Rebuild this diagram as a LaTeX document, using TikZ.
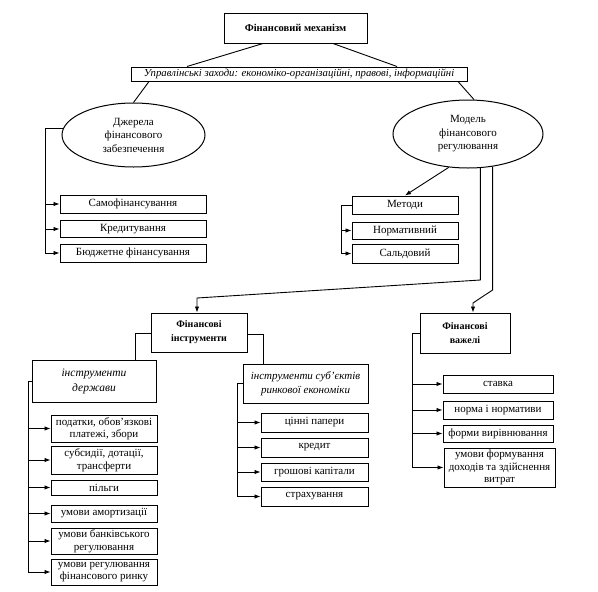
\documentclass[tikz,border=0pt]{standalone}
\usepackage{fontspec}
\setmainfont{Liberation Serif}
\usetikzlibrary{shapes.geometric,arrows.meta}
\begin{document}
\begin{tikzpicture}[x=1pt,y=-1pt,
  box/.style={draw, line width=1pt, inner sep=0.5pt, align=center, font=\fontsize{11}{12.5}\selectfont},
  ell/.style={draw, ellipse, line width=1pt, inner sep=0pt, align=center, font=\fontsize{11}{13.5}\selectfont},
  con/.style={line width=0.9pt},
  arr/.style={con, -{Latex[length=6pt,width=4.5pt]}}]
\useasboundingbox[fill=white] (0,0) rectangle (598,592);
% top
\node[box, minimum width=143pt, minimum height=30pt, font=\fontsize{10.5}{12}\selectfont\bfseries] (top) at (295.5,28) {Фінансовий механізм};
\node[box, minimum width=336pt, minimum height=14pt, font=\fontsize{10.7}{12}\selectfont\itshape] (mgmt) at (299,74) {Управлінські заходи: економіко-організаційні, правові, інформаційні};
\node[ell, minimum width=143pt, minimum height=64pt] (ell1) at (133.5,135) {Джерела\\фінансового\\забезпечення};
\node[ell, minimum width=150pt, minimum height=68pt] (ell2) at (468,134) {Модель\\фінансового\\регулювання};
\draw[con] ([xshift=-32.5pt]top.south) -- ([xshift=-112pt]mgmt.north);
\draw[con] ([xshift=37.5pt]top.south) -- ([xshift=98pt]mgmt.north);
\draw[con] ([xshift=-150pt]mgmt.south) -- (ell1.north);
\draw[con] ([xshift=159pt]mgmt.south) -- (ell2.80);
% sources
\node[box, minimum width=146pt, minimum height=18pt] (sam) at (133,204) {Самофінансування};
\node[box, minimum width=146pt, minimum height=17pt] (kred) at (133,229) {Кредитування};
\node[box, minimum width=146pt, minimum height=18pt] (bud) at (133,253) {Бюджетне фінансування};
\coordinate (b1x) at (45,0);
\draw[con] (ell1.175) -- (ell1.175 -| b1x) -- (b1x |- bud.west);
\foreach \n in {sam,kred,bud} \draw[arr] (b1x |- \n.west) -- (\n.west);
% methods
\node[box, minimum width=106pt, minimum height=18pt] (met) at (405,205) {Методи};
\node[box, minimum width=106pt, minimum height=17pt] (norm) at (405,230.5) {Нормативний};
\node[box, minimum width=106pt, minimum height=19pt] (sal) at (405,253.5) {Сальдовий};
\draw[arr] (ell2.240) -- (met.north);
\coordinate (b2x) at (341,0);
\draw[con] (met.west) -- (met.west -| b2x) -- (b2x |- sal.west);
\foreach \n in {norm,sal} \draw[arr] (b2x |- \n.west) -- (\n.west);
% instruments and levers
\node[box, minimum width=96pt, minimum height=39pt, font=\fontsize{10}{14}\selectfont\bfseries] (fi) at (199,332.5) {Фінансові\\інструменти};
\node[box, minimum width=90pt, minimum height=40pt, font=\fontsize{10}{14}\selectfont\bfseries] (fv) at (465,333) {Фінансові\\важелі};
\coordinate (b1) at (480,280);
\coordinate (k1) at (197,298);
\coordinate (b2) at (492,290);
\coordinate (k2) at (473,303);
\draw[arr] (ell2.290) -- (ell2.290 |- b1) -- (k1) -- (k1 |- fi.north);
\draw[arr] (ell2.307) -- (ell2.307 |- b2) -- (k2) -- (k2 |- fv.north);
% sub groups
\node[box, minimum width=124pt, minimum height=42pt, font=\fontsize{11.5}{15}\selectfont\itshape] (id) at (94,381) {інструменти\\держави};
\node[box, minimum width=125pt, minimum height=39pt, font=\fontsize{11}{14.5}\selectfont\itshape] (is) at (305.5,383.5) {інструменти суб’єктів\\ринкової економіки};
\coordinate (c1) at (135,0);
\coordinate (c2) at (263,0);
\draw[con] ([yshift=-1pt]fi.west) -- ([yshift=-1pt]fi.west -| c1) -- (c1 |- id.north);
\draw[con] ([yshift=-2pt]fi.east) -- ([yshift=-2pt]fi.east -| c2) -- (c2 |- is.north);
% state instruments
\node[box, minimum width=106pt, minimum height=27pt] (p1) at (104,428.5) {податки, обов’язкові\\платежі, збори};
\node[box, minimum width=106pt, minimum height=28pt] (p2) at (104,460) {субсидії, дотації,\\трансферти};
\node[box, minimum width=106pt, minimum height=15pt] (p3) at (104,487.5) {пільги};
\node[box, minimum width=106pt, minimum height=17pt] (p4) at (104,513.5) {умови амортизації};
\node[box, minimum width=106pt, minimum height=26pt] (p5) at (104,541) {умови банківського\\регулювання};
\node[box, minimum width=106pt, minimum height=26pt] (p6) at (104,572) {умови регулювання\\фінансового ринку};
\coordinate (b3x) at (28,0);
\draw[con] (id.west) -- (id.west -| b3x) -- (b3x |- p6.west);
\foreach \n in {p1,p2,p3,p4,p5,p6} \draw[arr] (b3x |- \n.west) -- (\n.west);
% market instruments
\node[box, minimum width=107pt, minimum height=19pt] (m1) at (314.5,422.5) {цінні папери};
\node[box, minimum width=107pt, minimum height=19pt] (m2) at (314.5,447.5) {кредит};
\node[box, minimum width=107pt, minimum height=18pt] (m3) at (314.5,472) {грошові капітали};
\node[box, minimum width=107pt, minimum height=19pt] (m4) at (314.5,496.5) {страхування};
\coordinate (b4x) at (237,0);
\draw[con] (is.west) -- (is.west -| b4x) -- (b4x |- m4.west);
\foreach \n in {m1,m2,m3,m4} \draw[arr] (b4x |- \n.west) -- (\n.west);
% levers
\node[box, minimum width=110pt, minimum height=18pt] (v1) at (498,384) {ставка};
\node[box, minimum width=110pt, minimum height=18pt] (v2) at (498,410) {норма і нормативи};
\node[box, minimum width=110pt, minimum height=17pt] (v3) at (498,433.5) {форми вирівнювання};
\node[box, minimum width=111pt, minimum height=39pt] (v4) at (499.5,467.5) {умови формування\\доходів та здійснення\\витрат};
\coordinate (b5x) at (412,0);
\draw[con] (fv.west) -- (fv.west -| b5x) -- (b5x |- v4.west);
\foreach \n in {v1,v2,v3,v4} \draw[arr] (b5x |- \n.west) -- (\n.west);
\end{tikzpicture}
\end{document}
